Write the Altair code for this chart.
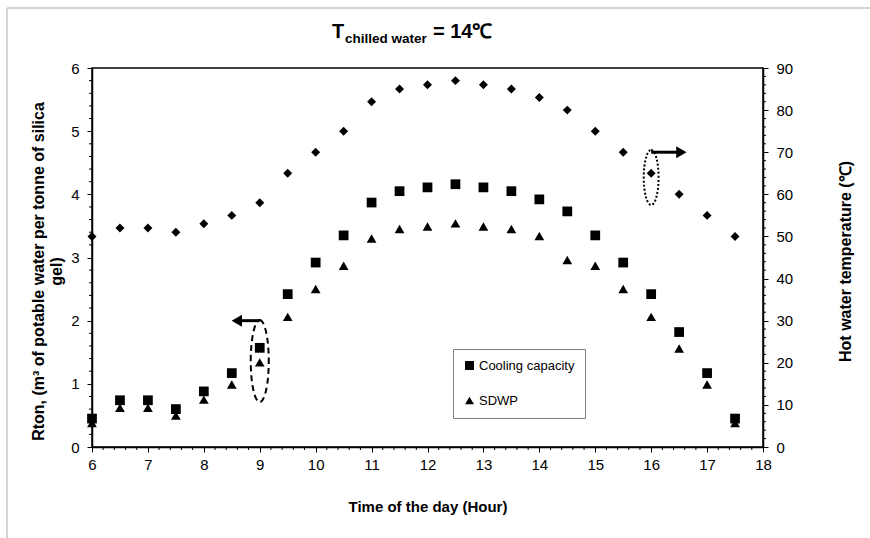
import altair as alt
import pandas as pd

hours = [6, 6.5, 7, 7.5, 8, 8.5, 9, 9.5, 10, 10.5, 11, 11.5, 12, 12.5,
         13, 13.5, 14, 14.5, 15, 15.5, 16, 16.5, 17, 17.5]
cooling = [0.45, 0.74, 0.74, 0.60, 0.88, 1.17, 1.57, 2.42, 2.92, 3.35, 3.87, 4.05,
           4.11, 4.16, 4.11, 4.05, 3.92, 3.73, 3.35, 2.92, 2.42, 1.82, 1.17, 0.45]
sdwp = [0.38, 0.62, 0.62, 0.50, 0.75, 0.99, 1.34, 2.06, 2.50, 2.87, 3.30, 3.45,
        3.49, 3.54, 3.49, 3.45, 3.34, 2.96, 2.87, 2.50, 2.06, 1.56, 0.99, 0.38]
hot_water = [50, 52, 52, 51, 53, 55, 58, 65, 70, 75, 82, 85,
             86, 87, 86, 85, 83, 80, 75, 70, 65, 60, 55, 50]
series_names = ["Cooling capacity", "SDWP"]

# tick values
x_major = list(range(6, 19))
yl_major = list(range(0, 7))
yr_major = list(range(0, 91, 10))
x_minor = [round(6 + 0.2 * i, 1) for i in range(61) if i % 5 != 0]
yl_minor = [round(0.2 * i, 1) for i in range(31) if i % 5 != 0]
yr_minor = [2 * i for i in range(46) if i % 5 != 0]

# annotation anchors (data coordinates)
left_ellipse = {"x": [9.0], "y": [1.36]}
left_arrow = {"x1": [9.0], "x2": [8.62], "y": [2.0], "head": [8.59]}
right_ellipse = {"x": [16.0], "y": [64.0]}
right_arrow = {"x1": [16.0], "x2": [16.5], "y": [70.0], "head": [16.54]}

FONT = "Liberation Sans"

df_left = pd.DataFrame({
    "hour": hours * 2,
    "value": cooling + sdwp,
    "series": [series_names[0]] * len(hours) + [series_names[1]] * len(hours),
})
df_right = pd.DataFrame({"hour": hours, "temp": hot_water})

x_axis = alt.Axis(
    values=x_major, tickSize=5,
    labelFontSize=15, labelPadding=5,
    title="Time of the day (Hour)", titleFontSize=15,
    titlePadding=27, labelFlush=False,
)
yl_axis = alt.Axis(
    values=yl_major, tickSize=5,
    labelPadding=8, labelFontSize=15,
    title=["Rton, (m\u00b3 of potable water per tonne of silica", "gel)"],
    titleFontSize=16,
    titleAngle=270, titleBaseline="top", titleAlign="center",
    titleX=-62, titleY=203, titleLineHeight=18,
)
yr_axis = alt.Axis(
    orient="right",
    values=yr_major, tickSize=5,
    labelPadding=8, labelFontSize=15,
    title="Hot water temperature (\u2103)", titleFontSize=16,
    titleAngle=270, titleBaseline="middle", titleAlign="center",
    titleX=82, titleY=193,
)

xs = alt.Scale(domain=[6, 18], nice=False, zero=False)
yls = alt.Scale(domain=[0, 6], nice=False)
yrs = alt.Scale(domain=[0, 90], nice=False)


def X(field):
    return alt.X(field, scale=xs, axis=x_axis)


def YL(field):
    return alt.Y(field, scale=yls, axis=yl_axis)


def YR(field):
    return alt.Y(field, scale=yrs, axis=yr_axis)


def ellipse_path(rx):
    k = 0.5523
    return (f"M 0 -1 C {k*rx:.4f} -1 {rx} {-k:.4f} {rx} 0 "
            f"C {rx} {k:.4f} {k*rx:.4f} 1 0 1 "
            f"C {-k*rx:.4f} 1 {-rx} {k:.4f} {-rx} 0 "
            f"C {-rx} {-k:.4f} {-k*rx:.4f} -1 0 -1 Z")


points_left = alt.Chart(df_left).mark_point(filled=True, opacity=1, color="black", size=95).encode(
    x=X("hour:Q"),
    y=YL("value:Q"),
    shape=alt.Shape("series:N",
                    scale=alt.Scale(domain=series_names, range=["square", "triangle-up"]),
                    legend=alt.Legend(
                        title=None, orient="none", legendX=361, legendY=281,
                        direction="vertical", strokeColor="#808080", fillColor="white",
                        padding=10, symbolSize=80, symbolFillColor="black",
                        symbolStrokeColor="black", symbolStrokeWidth=0,
                        labelFont=FONT, labelFontSize=13, labelColor="black",
                        rowPadding=21, labelOffset=3, symbolOffset=0,
                    )),
)

# minor ticks
minor_x = alt.Chart(pd.DataFrame({"t": x_minor})).mark_rule(color="black", strokeWidth=1).encode(
    x=X("t:Q"), y=alt.value(379), y2=alt.value(382))
minor_yl = alt.Chart(pd.DataFrame({"t": yl_minor})).mark_rule(color="black", strokeWidth=1).encode(
    y=YL("t:Q"), x=alt.value(0), x2=alt.value(-3))

le = alt.Chart(pd.DataFrame(left_ellipse)).mark_point(
    shape=ellipse_path(0.22), size=6724, filled=False, stroke="black",
    strokeWidth=2, strokeDash=[6, 4], opacity=1,
).encode(x=X("x:Q"), y=YL("y:Q"))

la_rule = alt.Chart(pd.DataFrame(left_arrow)).mark_rule(strokeWidth=3, color="black").encode(
    x=X("x1:Q"), x2="x2:Q", y=YL("y:Q"))
la_head = alt.Chart(pd.DataFrame(left_arrow)).mark_point(
    shape="triangle-left", size=144, filled=True, color="black", opacity=1).encode(
    x=X("head:Q"), y=YL("y:Q"))

# frame lines and title pieces
frame = alt.Chart(pd.DataFrame({"a": [0]})).mark_rule(color="#d4d4d4", strokeWidth=2)
border_left = frame.encode(x=alt.value(-85), y=alt.value(-60), y2=alt.value(470))
border_top = frame.encode(x=alt.value(-85), x2=alt.value(778), y=alt.value(-60))

title_df = pd.DataFrame({"a": [0]})
t_main = alt.Chart(title_df).mark_text(text="T", font=FONT, fontSize=20, fontWeight="bold",
                                       align="left", baseline="alphabetic", color="black").encode(
    x=alt.value(240), y=alt.value(-30))
t_sub = alt.Chart(title_df).mark_text(text="chilled water", font=FONT, fontSize=13.5, fontWeight="bold",
                                      align="left", baseline="alphabetic", color="black").encode(
    x=alt.value(253), y=alt.value(-25))
t_eq = alt.Chart(title_df).mark_text(text="= 14\u2103", font=FONT, fontSize=20, fontWeight="bold",
                                     align="left", baseline="alphabetic", color="black").encode(
    x=alt.value(341), y=alt.value(-30))

left = alt.layer(points_left, minor_x, minor_yl, le, la_rule, la_head,
                 border_left, border_top, t_main, t_sub, t_eq)

diamonds = alt.Chart(df_right).mark_point(shape="diamond", filled=True, opacity=1,
                                          color="black", size=80).encode(
    x=X("hour:Q"),
    y=YR("temp:Q"),
)
minor_yr = alt.Chart(pd.DataFrame({"t": yr_minor})).mark_rule(color="black", strokeWidth=1).encode(
    y=YR("t:Q"), x=alt.value(671), x2=alt.value(674))
re_ = alt.Chart(pd.DataFrame(right_ellipse)).mark_point(
    shape=ellipse_path(0.27), size=3025, filled=False, stroke="black",
    strokeWidth=2, strokeDash=[2, 2], opacity=1,
).encode(x=X("x:Q"), y=YR("y:Q"))
ra_rule = alt.Chart(pd.DataFrame(right_arrow)).mark_rule(strokeWidth=3, color="black").encode(
    x=X("x1:Q"), x2="x2:Q", y=YR("y:Q"))
ra_head = alt.Chart(pd.DataFrame(right_arrow)).mark_point(
    shape="triangle-right", size=144, filled=True, color="black", opacity=1).encode(
    x=X("head:Q"), y=YR("y:Q"))

right = alt.layer(diamonds, minor_yr, re_, ra_rule, ra_head)

chart = alt.layer(left, right).resolve_scale(y="independent").properties(
    width=671, height=379,
    autosize=alt.AutoSizeParams(type="none"),
    padding={"left": 92, "top": 68, "right": 107, "bottom": 91},
    background="white",
).configure_view(stroke="black", strokeWidth=1.5).configure_axis(
    grid=False, domainColor="black", domainWidth=1.5, tickColor="black", tickWidth=1,
    labelFont=FONT, labelColor="black", titleFont=FONT, titleFontSize=15,
    titleFontWeight="bold", titleColor="black",
)

chart.save("out.html", embed_options={"renderer": "svg", "actions": False})
